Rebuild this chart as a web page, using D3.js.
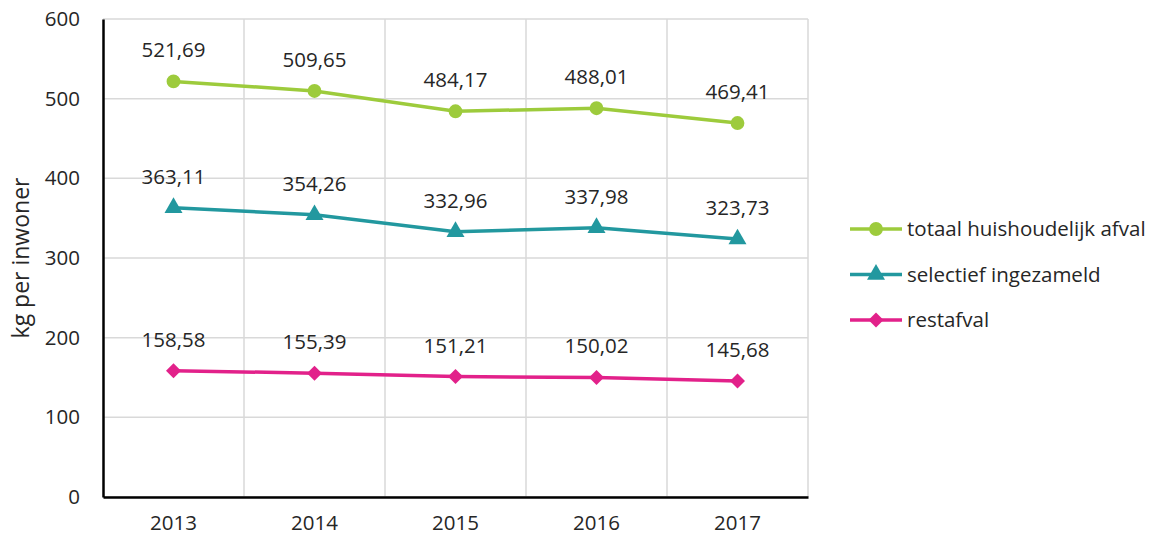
<!DOCTYPE html>
<html>
<head>
<meta charset="utf-8">
<script src="https://cdn.jsdelivr.net/npm/d3@7"></script>
<style>
  body { margin: 0; background: #fff; }
  svg text { font-family: "Open Sans", sans-serif; fill: #262626; }
</style>
</head>
<body>
<div id="chart"></div>
<script>
const years = ['2013', '2014', '2015', '2016', '2017'];
const totaal = [521.69, 509.65, 484.17, 488.01, 469.41];
const selectief = [363.11, 354.26, 332.96, 337.98, 323.73];
const restafval = [158.58, 155.39, 151.21, 150.02, 145.68];
const yTicks = [0, 100, 200, 300, 400, 500, 600];

const series = [
  { name: 'totaal huishoudelijk afval', values: totaal, color: '#9dcb3c', symbol: d3.symbolCircle, size: 150, rot: 0 },
  { name: 'selectief ingezameld', values: selectief, color: '#22989f', symbol: d3.symbolTriangle, size: 140, rot: 0 },
  { name: 'restafval', values: restafval, color: '#e2218a', symbol: d3.symbolSquare, size: 112, rot: 45 }
];

const W = 1156, H = 538;
const M = { t: 19, r: 348, b: 41, l: 103 };
const FS = '20.5px';

const svg = d3.select('#chart').append('svg')
  .attr('width', W).attr('height', H)
  .attr('viewBox', `0 0 ${W} ${H}`)
  .style('display', 'block');

const x = d3.scaleBand().domain(years).range([M.l, W - M.r]);
const y = d3.scaleLinear().domain([0, 600]).range([H - M.b, M.t]);
const cx = d => x(d) + x.bandwidth() / 2;

// gridlines
svg.append('g')
  .selectAll('line')
  .data(yTicks)
  .enter().append('line')
  .attr('x1', M.l).attr('x2', W - M.r)
  .attr('y1', d => y(d)).attr('y2', d => y(d))
  .attr('stroke', '#d9d9d9').attr('stroke-width', 1.5);

svg.append('g')
  .selectAll('line')
  .data(years)
  .enter().append('line')
  .attr('x1', d => x(d) + x.bandwidth()).attr('x2', d => x(d) + x.bandwidth())
  .attr('y1', y(600)).attr('y2', y(0))
  .attr('stroke', '#d9d9d9').attr('stroke-width', 1.5);

// axes
const yAxis = svg.append('g')
  .attr('transform', `translate(${M.l},0)`)
  .call(d3.axisLeft(y).tickValues(yTicks).tickSize(0).tickPadding(23));
yAxis.select('.domain').attr('stroke', '#000').attr('stroke-width', 2.5);
yAxis.selectAll('text').style('font-size', FS).style('font-family', '"Open Sans", sans-serif').attr('fill', '#262626');

const xAxis = svg.append('g')
  .attr('transform', `translate(0,${H - M.b})`)
  .call(d3.axisBottom(x).tickSize(0).tickPadding(18));
xAxis.select('.domain').attr('stroke', '#000').attr('stroke-width', 2.5);
xAxis.selectAll('text').style('font-size', FS).style('font-family', '"Open Sans", sans-serif').attr('fill', '#262626');

svg.append('text')
  .attr('transform', `translate(29,${(y(0) + y(600)) / 2}) rotate(-90)`)
  .attr('text-anchor', 'middle')
  .style('font-size', '23px')
  .text('kg per inwoner');

// lines + markers + labels
const line = d3.line()
  .x((d, i) => cx(years[i]))
  .y(d => y(d));

series.forEach(s => {
  svg.append('path')
    .datum(s.values)
    .attr('fill', 'none')
    .attr('stroke', s.color)
    .attr('stroke-width', 3.5)
    .attr('d', line);

  svg.append('g').selectAll('path')
    .data(s.values)
    .enter().append('path')
    .attr('transform', (d, i) => `translate(${cx(years[i])},${y(d)}) rotate(${s.rot})`)
    .attr('d', d3.symbol().type(s.symbol).size(s.size))
    .attr('fill', s.color);

  svg.append('g').selectAll('text')
    .data(s.values)
    .enter().append('text')
    .attr('x', (d, i) => cx(years[i]))
    .attr('y', d => y(d) - 24)
    .attr('text-anchor', 'middle')
    .style('font-size', FS)
    .text(d => d3.format('.2f')(d).replace('.', ','));
});

// legend
const lg = svg.append('g').attr('transform', `translate(850,229)`);
series.forEach((s, i) => {
  const g = lg.append('g').attr('transform', `translate(0,${i * 45.5})`);
  g.append('line')
    .attr('x1', 0).attr('x2', 52)
    .attr('stroke', s.color).attr('stroke-width', 3.5);
  g.append('path')
    .attr('transform', `translate(26,0) rotate(${s.rot})`)
    .attr('d', d3.symbol().type(s.symbol).size(s.size))
    .attr('fill', s.color);
  g.append('text')
    .attr('x', 57).attr('y', 0)
    .attr('dy', '0.35em')
    .style('font-size', FS)
    .text(s.name);
});
</script>
</body>
</html>
